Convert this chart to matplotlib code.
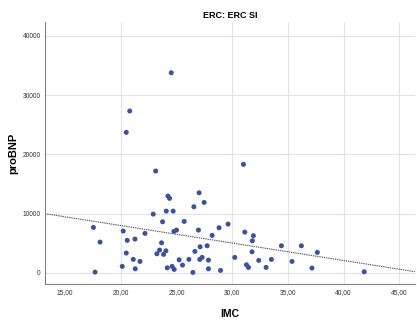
import numpy as np
import matplotlib
matplotlib.use("Agg")
import matplotlib.pyplot as plt
from matplotlib.ticker import FuncFormatter

# IMC (x) and proBNP (y) values
imc = [
    24.53, 20.80, 20.49, 23.13, 24.23, 24.38, 22.91, 24.08, 24.70, 23.75,
    24.77, 25.00, 17.54, 20.22, 22.17, 18.14, 20.58, 21.27, 23.66, 23.48,
    24.05, 23.24, 23.84, 20.49, 21.12, 21.72, 20.13, 21.30, 17.69, 24.17,
    24.61, 24.79, 31.01, 27.03, 27.48, 26.56, 25.69, 26.97, 28.82, 29.63,
    28.20, 31.13, 31.90, 31.81, 31.78, 26.65, 27.12, 27.75, 27.09, 27.30,
    27.87, 25.24, 26.11, 25.54, 26.47, 27.87, 28.95, 30.23, 31.28, 31.46,
    32.38, 33.04, 34.42, 36.21, 37.64, 33.52, 35.37, 37.16, 41.85,
]
probnp = [
    33760, 27300, 23700, 17170, 12950, 12560, 9900, 10410, 10410, 8610,
    6990, 7210, 7660, 7040, 6650, 5180, 5470, 5690, 5060, 3830,
    3710, 3210, 3110, 3330, 2260, 1920, 1080, 680, 120, 840,
    1080, 570, 18300, 13500, 11880, 11140, 8670, 7210, 7600, 8220,
    6310, 6870, 6250, 5400, 3540, 3610, 4390, 4560, 2260, 2600,
    2140, 2190, 2260, 1300, 60, 680, 400, 2600, 1350, 910,
    2090, 910, 4560, 4560, 3440, 2260, 1920, 790, 170,
]

x_ticks = [15, 20, 25, 30, 35, 40, 45]
x_grid = [20, 30, 35, 40, 45]
y_ticks = [0, 10000, 20000, 30000, 40000]

plt.rcParams["font.family"] = ["Liberation Sans", "DejaVu Sans"]

fig = plt.figure(figsize=(4.17, 3.21), dpi=100)
ax = fig.add_axes([0.108, 0.114, 0.887, 0.817])

ax.set_xlim(13.2, 46.4)
ax.set_ylim(-1960, 42300)

# Grid lines
ax.set_axisbelow(True)
ax.yaxis.grid(True, color="#e3e3e3", linewidth=0.8)
for gx in x_grid:
    ax.axvline(gx, color="#e3e3e3", linewidth=0.8, zorder=0)

ax.scatter(imc, probnp, s=13, color="#3a539b", edgecolors="none", zorder=3)

# Linear fit line (dotted)
slope, intercept = np.polyfit(imc, probnp, 1)
xs = np.array(ax.get_xlim())
ax.plot(xs, intercept + slope * xs, linestyle=(0, (1.2, 0.8)),
        color="#555555", linewidth=0.8, zorder=2)

ax.set_xticks(x_ticks)
ax.xaxis.set_major_formatter(FuncFormatter(lambda v, p: f"{v:.2f}".replace(".", ",")))
ax.set_yticks(y_ticks)
ax.tick_params(axis="both", length=0, labelsize=4.8, labelcolor="#333333", pad=3)

for side in ["top", "right"]:
    ax.spines[side].set_visible(False)
for side in ["left", "bottom"]:
    ax.spines[side].set_color("#808080")
    ax.spines[side].set_linewidth(0.8)

ax.set_title("ERC: ERC SI", fontsize=6.5, fontweight="bold", pad=3)
ax.set_xlabel("IMC", fontsize=7.5, fontweight="bold", labelpad=10)
ax.set_ylabel("proBNP", fontsize=8, fontweight="bold", labelpad=3)

fig.savefig("out.png", dpi=100)
